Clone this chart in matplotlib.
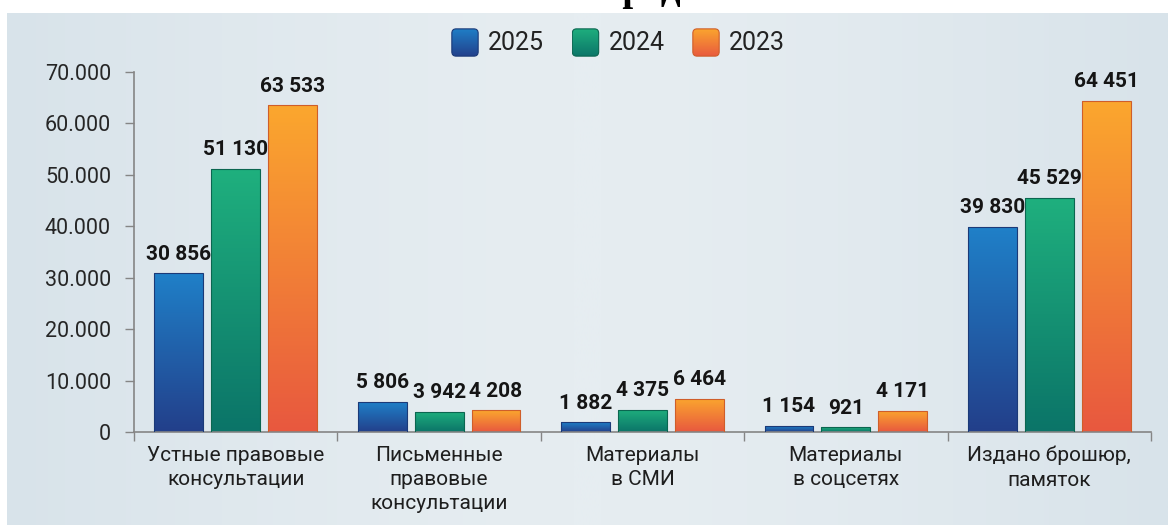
import numpy as np
import matplotlib
matplotlib.use('Agg')
import matplotlib.pyplot as plt
from matplotlib.colors import LinearSegmentedColormap
from matplotlib.patches import FancyBboxPatch

categories = ['Устные правовые\nконсультации', 'Письменные\nправовые\nконсультации',
              'Материалы\nв СМИ', 'Материалы\nв соцсетях', 'Издано брошюр,\nпамяток']
years = ['2025', '2024', '2023']
v2025 = [30856, 5806, 1882, 1154, 39830]
v2024 = [51130, 3942, 4375, 921, 45529]
v2023 = [63533, 4208, 6464, 4171, 64451]
yticks = [0, 10000, 20000, 30000, 40000, 50000, 60000, 70000]

# gradient colours (bottom -> top) and edge colour per year
grad_colors = [('#233f8a', '#1f80c8'), ('#0b7468', '#1fb07e'), ('#e8583f', '#fba72e')]
edge_colors = ['#1b3a78', '#0b6650', '#cf5e2a']

plt.rcParams['font.family'] = ['Roboto', 'DejaVu Sans']

W, H = 1168, 525
fig = plt.figure(figsize=(W / 100, H / 100), dpi=100)
fig.patch.set_facecolor('white')

# soft background behind the chart
bg = fig.add_axes([7 / W, 0, 1 - 7 / W, 1 - 13 / H])
t = np.abs(np.linspace(-1, 1, 400)).reshape(1, -1) ** 1.5
bg_cmap = LinearSegmentedColormap.from_list('bg', ['#e6edf1', '#d8e3ea'])
bg.imshow(t, cmap=bg_cmap, aspect='auto', extent=[0, 1, 0, 1], vmin=0, vmax=1)
bg.axis('off')

# cut-off title fragment at the very top (only descenders visible, as in the source)
fig.text(640 / W, 1.0, 'пред', ha='center', va='baseline', fontsize=28,
         family='Liberation Serif', fontweight='bold', color='black')

ax = fig.add_axes([134 / W, 93 / H, (1151 - 134) / W, 360 / H])
ax.patch.set_alpha(0)

grad = np.linspace(1, 0, 256).reshape(-1, 1)
x = np.arange(len(categories))
w = 0.24
offsets = [-0.28, 0, 0.28]
series = [v2025, v2024, v2023]

for vals, off, (c0, c1), ec in zip(series, offsets, grad_colors, edge_colors):
    cm = LinearSegmentedColormap.from_list('g', [c0, c1])
    bars = ax.bar(x + off, vals, w, facecolor='none', edgecolor=ec, linewidth=0.8, zorder=3)
    for rect in bars:
        x0 = rect.get_x()
        im = ax.imshow(grad, cmap=cm, vmin=0, vmax=1, aspect='auto', zorder=2,
                       extent=[x0, x0 + rect.get_width(), 0, rect.get_height()],
                       interpolation='bilinear')
        im.set_clip_path(rect)
    ax.bar_label(bars, labels=[f'{v:,}'.replace(',', ' ') for v in vals], padding=7,
                 fontsize=15, fontweight='bold', color='#151515')

ax.set_xlim(-0.5, len(categories) - 0.5)
ax.set_ylim(0, 70000)

ax.set_yticks(yticks, labels=[f'{v:,}'.replace(',', '.') for v in yticks])
ax.tick_params(axis='y', length=6.5, width=1, color='#858585', labelsize=15.5,
               labelcolor='#262626', pad=10)
ax.set_xticks(x, labels=categories)
ax.set_xticks(np.arange(-0.5, len(categories)), minor=True)
ax.tick_params(axis='x', which='major', length=0, pad=10, labelsize=15, labelcolor='#1e1e1e')
ax.tick_params(axis='x', which='minor', length=6.5, width=1, color='#858585')
for lab in ax.get_xticklabels():
    lab.set_linespacing(1.35)

for s in ['top', 'right']:
    ax.spines[s].set_visible(False)
for s in ['left', 'bottom']:
    ax.spines[s].set_color('#858585')
    ax.spines[s].set_linewidth(1.2)

# legend with gradient rounded swatches
step = 120.5
for i, (yr, (c0, c1), ec) in enumerate(zip(years, grad_colors, edge_colors)):
    px = 451 + i * step
    pax = fig.add_axes([px / W, (H - 57) / H, 28 / W, 29 / H])
    cm = LinearSegmentedColormap.from_list('g', [c0, c1])
    im = pax.imshow(grad, cmap=cm, vmin=0, vmax=1, aspect='auto', extent=[0, 1, 0, 1])
    box = FancyBboxPatch((0.03, 0.03), 0.94, 0.94, boxstyle='round,pad=0,rounding_size=0.15',
                         transform=pax.transAxes, facecolor='none', edgecolor=ec, linewidth=0.8)
    pax.add_patch(box)
    im.set_clip_path(box)
    pax.axis('off')
    fig.text((px + 37) / W, 1 - 43 / H, yr, ha='left', va='center', fontsize=18, color='#222222')

fig.savefig('out.png', dpi=100)
